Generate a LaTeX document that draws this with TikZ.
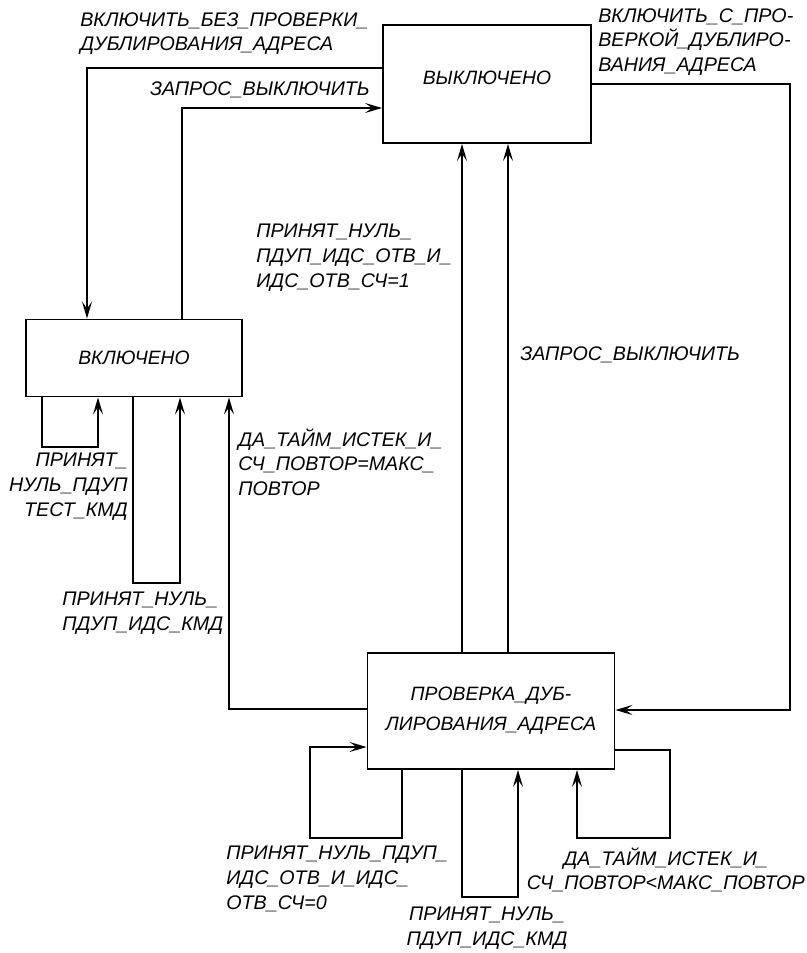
\documentclass[tikz,border=0pt]{standalone}
\usepackage{fontspec}
\setmainfont{Liberation Sans}
\usetikzlibrary{arrows.meta,positioning,calc}

\begin{document}
\begin{tikzpicture}[
  x=0.02cm,
  y=-0.02cm,
  state/.style={
    draw,
    line width=1.1pt,
    inner sep=2pt,
    align=center,
    font=\fontsize{11}{17}\selectfont\itshape
  },
  lbl/.style={inner sep=0pt,font=\fontsize{11.2}{14}\selectfont\itshape},
  flow/.style={-{Stealth[length=3.4mm,width=2mm,inset=1.4mm]},line width=1.1pt}
]
\useasboundingbox (0,0) rectangle (807,953);

\node[state,minimum width=4.16cm,minimum height=2.36cm] (off) at (487,84)
  {\raisebox{0.24cm}{ВЫКЛЮЧЕНО}};
\node[state,minimum width=4.32cm,minimum height=1.54cm] (on) at (134,358) {ВКЛЮЧЕНО};
\node[state,minimum width=4.94cm,minimum height=2.32cm]
  (chk) at (491,711) {ПРОВЕРКА\_ДУБ-\\ЛИРОВАНИЯ\_АДРЕСА};

% bend points
\coordinate (a1) at (87,68);
\coordinate (a2) at (182,108);
\coordinate (a3) at (790,84);
\coordinate (a4) at (790,710);
\coordinate (v1) at (462,0);
\coordinate (v2) at (508,0);
\coordinate (a5) at (229,709);
\coordinate (s1) at (42,447);
\coordinate (s2) at (98,447);
\coordinate (s3) at (133,583);
\coordinate (s4) at (180,583);
\coordinate (r1) at (402,838);
\coordinate (r2) at (310,747);
\coordinate (r3) at (462,897);
\coordinate (r4) at (518,897);
\coordinate (r5) at (670,750);
\coordinate (r6) at (577,838);

\draw[flow] (off.west |- a1) -| (on.north -| a1);
\draw[flow] (on.north -| a2) |- (off.west |- a2);
\draw[flow] (off.east |- a3) -- (a3) |- (chk.east |- a4);
\draw[flow] (chk.north -| v1) -- (off.south -| v1);
\draw[flow] (chk.north -| v2) -- (off.south -| v2);
\draw[flow] (chk.west |- a5) -| (on.south -| a5);
\draw[flow] (on.south -| s1) |- (s2) -- (on.south -| s2);
\draw[flow] (on.south -| s3) |- (s4) -- (on.south -| s4);
\draw[flow] (chk.south -| r1) -- (r1) -| (r2) -- (chk.west |- r2);
\draw[flow] (chk.south -| r3) |- (r4) -- (chk.south -| r4);
\draw[flow] (chk.east |- r5) -- (r5) |- (r6) -- (chk.south -| r6);

% labels
\node[lbl,anchor=north west,align=left] (t1) at (80,12)
  {ВКЛЮЧИТЬ\_БЕЗ\_ПРОВЕРКИ\_\\ДУБЛИРОВАНИЯ\_АДРЕСА};
\node[lbl,anchor=east] (t2) at (370,90) {ЗАПРОС\_ВЫКЛЮЧИТЬ};
\node[lbl,anchor=north west,align=left] (t3) at (598,8)
  {ВКЛЮЧИТЬ\_С\_ПРО-\\ВЕРКОЙ\_ДУБЛИРО-\\ВАНИЯ\_АДРЕСА};
\node[lbl,anchor=north west,align=left] (t4) at (256,224)
  {ПРИНЯТ\_НУЛЬ\_\\ПДУП\_ИДС\_ОТВ\_И\_\\ИДС\_ОТВ\_СЧ=1};
\node[lbl,anchor=west] (t5) at (520,355) {ЗАПРОС\_ВЫКЛЮЧИТЬ};
\node[lbl,anchor=north west,align=left] (t6) at (238,428)
  {ДА\_ТАЙМ\_ИСТЕК\_И\_\\СЧ\_ПОВТОР=МАКС\_\\ПОВТОР};
\node[lbl,anchor=north east,align=right] (t7) at (128,453)
  {ПРИНЯТ\_\\НУЛЬ\_ПДУП\\ТЕСТ\_КМД};
\node[lbl,anchor=north west,align=left] (t8) at (62,592)
  {ПРИНЯТ\_НУЛЬ\_\\ПДУП\_ИДС\_КМД};
\node[lbl,anchor=north west,align=left] (t9) at (226,846)
  {ПРИНЯТ\_НУЛЬ\_ПДУП\_\\ИДС\_ОТВ\_И\_ИДС\_\\ОТВ\_СЧ=0};
\node[lbl,anchor=north,align=center] (t10) at (487,907)
  {ПРИНЯТ\_НУЛЬ\_\\ПДУП\_ИДС\_КМД};
\node[lbl,anchor=north east,align=center] (t11) at (805,847)
  {ДА\_ТАЙМ\_ИСТЕК\_И\_\\СЧ\_ПОВТОР<МАКС\_ПОВТОР};
\end{tikzpicture}
\end{document}
